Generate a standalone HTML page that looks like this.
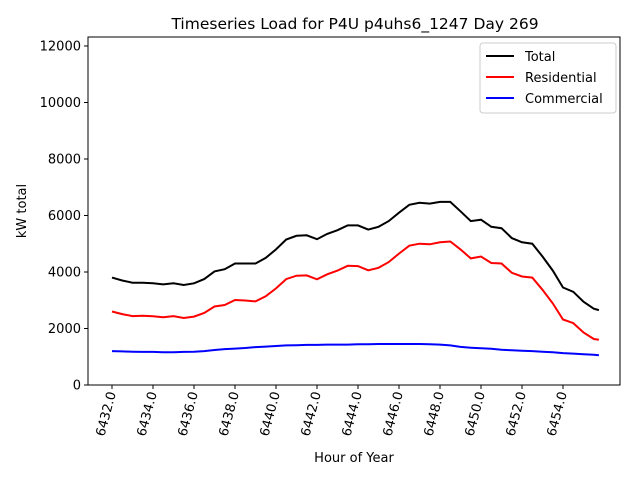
<!DOCTYPE html>
<html><head><meta charset="utf-8"><style>
body{margin:0;background:#fff}
svg text{font-family:"DejaVu Sans","Liberation Sans",sans-serif;fill:#000}
</style></head><body>
<svg id="c" width="640" height="480" xmlns="http://www.w3.org/2000/svg">
<rect width="640" height="480" fill="#fff"/>
<text x="355" y="29" font-size="15.5" text-anchor="middle">Timeseries Load for P4U p4uhs6_1247  Day 269</text>
<text x="354" y="462" font-size="13" text-anchor="middle">Hour of Year</text>
<text transform="translate(26,211) rotate(-90)" font-size="13" text-anchor="middle">kW total</text>
<g id="series"></g>
<rect x="88" y="37" width="532" height="348" fill="none" stroke="#000" stroke-width="1"/>
<g id="axes"></g>
<g>
<rect x="480" y="43" width="136" height="70" rx="3" fill="#fff" fill-opacity="0.8" stroke="#ccc"/>
<line x1="486" y1="56" x2="514" y2="56" stroke="#000" stroke-width="2"/>
<text x="525" y="61" font-size="13">Total</text>
<line x1="486" y1="77" x2="514" y2="77" stroke="#f00" stroke-width="2"/>
<text x="525" y="82" font-size="13">Residential</text>
<line x1="486" y1="98" x2="514" y2="98" stroke="#00f" stroke-width="2"/>
<text x="525" y="103" font-size="13">Commercial</text>
</g>
</svg>
<script>
const hours=[6432,6432.5,6433,6433.5,6434,6434.5,6435,6435.5,6436,6436.5,6437,6437.5,6438,6438.5,6439,6439.5,6440,6440.5,6441,6441.5,6442,6442.5,6443,6443.5,6444,6444.5,6445,6445.5,6446,6446.5,6447,6447.5,6448,6448.5,6449,6449.5,6450,6450.5,6451,6451.5,6452,6452.5,6453,6453.5,6454,6454.5,6455,6455.5,6455.75];
const total=[3800,3700,3620,3620,3600,3560,3600,3540,3600,3750,4020,4100,4300,4300,4300,4500,4800,5150,5280,5300,5160,5350,5480,5650,5650,5500,5600,5800,6100,6380,6450,6420,6480,6480,6150,5800,5850,5600,5550,5200,5050,5000,4550,4050,3450,3300,2950,2700,2650];
const residential=[2600,2510,2440,2450,2430,2400,2440,2370,2420,2550,2780,2830,3010,2990,2960,3140,3420,3750,3870,3880,3740,3920,4050,4220,4210,4060,4150,4350,4650,4930,5000,4980,5050,5080,4800,4480,4550,4320,4300,3970,3840,3800,3370,2890,2320,2190,1860,1630,1600];
const commercial=[1200,1190,1180,1170,1170,1160,1160,1170,1180,1200,1240,1270,1290,1310,1340,1360,1380,1400,1410,1420,1420,1430,1430,1430,1440,1440,1450,1450,1450,1450,1450,1440,1430,1400,1350,1320,1300,1280,1250,1230,1210,1200,1180,1160,1130,1110,1090,1070,1050];
const xTicks=[6432,6434,6436,6438,6440,6442,6444,6446,6448,6450,6452,6454];
const yTicks=[0,2000,4000,6000,8000,10000,12000];
const NS="http://www.w3.org/2000/svg";
const X0=88,X1=620,Y0=385,Y1=37,xmin=6430.83,xmax=6456.78,ymin=0,ymax=12318;
function xs(v){return X0+(v-xmin)/(xmax-xmin)*(X1-X0);}
function ys(v){return Y0-(v-ymin)/(ymax-ymin)*(Y0-Y1);}
const sg=document.getElementById('series');
[[total,'#000','total'],[residential,'#f00','residential'],[commercial,'#00f','commercial']].forEach(s=>{
  const p=document.createElementNS(NS,'polyline');
  p.setAttribute('points',hours.map((h,i)=>xs(h).toFixed(1)+','+ys(s[0][i]).toFixed(1)).join(' '));
  p.setAttribute('fill','none');p.setAttribute('stroke',s[1]);p.setAttribute('stroke-width','2');
  
  
  sg.appendChild(p);
});
const ag=document.getElementById('axes');
xTicks.forEach(t=>{
  const x=xs(t);
  const l=document.createElementNS(NS,'line');
  l.setAttribute('x1',x);l.setAttribute('x2',x);l.setAttribute('y1',385);l.setAttribute('y2',389);l.setAttribute('stroke','#000');
  
  
  ag.appendChild(l);
  const tx=document.createElementNS(NS,'text');
  tx.setAttribute('transform','translate('+(x+4)+',393) rotate(-75)');
  tx.setAttribute('text-anchor','end');tx.setAttribute('font-size','13');
  tx.textContent=t.toFixed(1);
  
  
  ag.appendChild(tx);
});
yTicks.forEach(t=>{
  const y=ys(t);
  const l=document.createElementNS(NS,'line');
  l.setAttribute('x1',84);l.setAttribute('x2',88);l.setAttribute('y1',y);l.setAttribute('y2',y);l.setAttribute('stroke','#000');
  
  
  ag.appendChild(l);
  const tx=document.createElementNS(NS,'text');
  tx.setAttribute('x',81);tx.setAttribute('y',y+4.5);tx.setAttribute('text-anchor','end');tx.setAttribute('font-size','13');
  tx.textContent=t;
  
  
  ag.appendChild(tx);
});
</script>
</body></html>
